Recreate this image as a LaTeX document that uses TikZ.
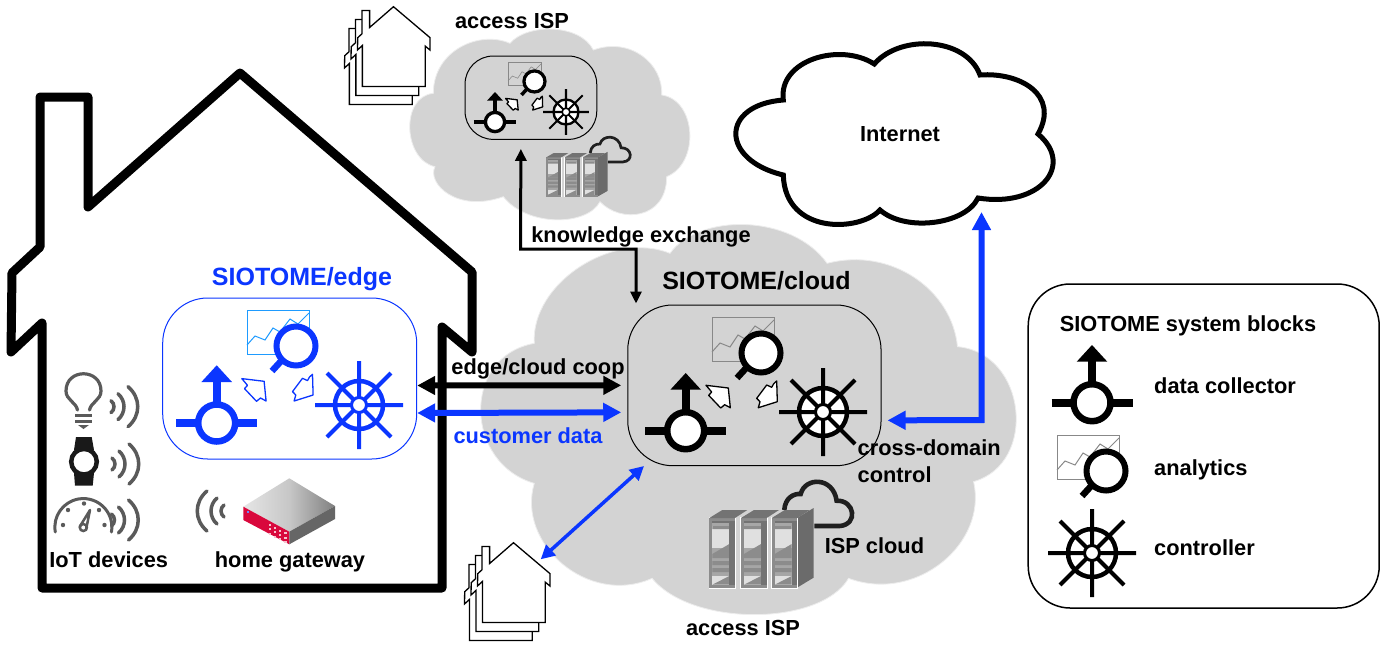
\documentclass[tikz,border=0pt]{standalone}
\usepackage{fontspec}
\setmainfont{Liberation Sans}
\usetikzlibrary{arrows.meta,calc}
\definecolor{sblue}{HTML}{0B36FF}
\definecolor{schart}{HTML}{1E9BFF}
\definecolor{cgray}{HTML}{D3D3D3}
\definecolor{igray}{HTML}{5A5A5A}
\definecolor{rred}{HTML}{D9083C}
\definecolor{cline}{HTML}{888888}
\tikzset{
  lbl/.style={font=\bfseries\fontsize{21.8}{26}\selectfont,inner sep=0pt,text height=16pt,text depth=0pt},
  lblbig/.style={lbl,font=\bfseries\fontsize{25}{30}\selectfont,text height=19pt,text depth=1pt},
  sysbox/.style={draw,rounded corners=#1,inner sep=0pt,line width=1pt},
  cloudfill/.style={fill=cgray,draw=white!93!black,line width=.8pt},
  wave/.style={draw=igray,line cap=round},
  blackthin/.style={line width=3pt,draw=black},
  thick6/.style={line width=6pt}
}
% ---- repeated icons ----
\newcommand{\collector}[4]{\begin{scope}[shift={(#1,#2)},scale=#3]
  \draw[#4,line width=#3*8pt] (-40.5,0) -- (-18,0) (18,0) -- (40.5,0) (0,-18) -- (0,-42);
  \fill[#4] (0,-57.7) -- (15.3,-41) -- (-15.3,-41) -- cycle;
  \draw[#4,fill=white,line width=#3*6.5pt] (0,0) circle (18.5);
\end{scope}}
\newcommand{\analytics}[5]{\begin{scope}[shift={(#1,#2)},scale=#3]
  \draw[#5,line width=1pt] (0,0) rectangle (62,44);
  \draw[#5,line width=#3*1pt] (0,35) -- (8,26) -- (18,30) -- (26,18) -- (33,22) -- (43,9) -- (51,14) -- (62,3);
  \draw[#4,line width=#3*6pt,fill=white] (49,36) circle (19.5);
  \draw[#4,line width=#3*6.5pt] (35.5,49.5) -- (25,61);
\end{scope}}
\newcommand{\controller}[4]{\begin{scope}[shift={(#1,#2)},scale=#3]
  \fill[white] (0,0) circle (24);
  \draw[#4,line width=#3*4pt] (-44,0) -- (44,0) (0,-44) -- (0,44) (-32,-32) -- (32,32) (-32,32) -- (32,-32);
  \draw[#4,line width=#3*4.5pt] (0,0) circle (24);
  \draw[#4,fill=white,line width=#3*3pt] (0,0) circle (7.5);
\end{scope}}
\newcommand{\blockarrows}[4]{\begin{scope}[shift={(#1,#2)},scale=#3]
  \draw[#4,fill=white,line width=1.3pt,line join=round] (20.3,-45.4) -- (42.6,-42.7) -- (44.6,-23) -- (39,-26) -- (35,-22.7) -- (23,-35.4) -- (26,-38.7) -- cycle;
  \draw[#4,fill=white,line width=1.3pt,line join=round] (91,-49.7) -- (91.6,-29) -- (72.6,-23) -- (74.3,-29) -- (71,-32.4) -- (81,-45.7) -- (86,-43.4) -- (88,-47) -- cycle;
\end{scope}}
\newcommand{\houseoutline}{(40,97) -- (88,97) -- (88,207) -- (240,73) -- (472,272) -- (472,352) -- (442,327) -- (442,588) -- (42,588) -- (42,323) -- (11,352) -- (12,273) -- (40,247) -- cycle}
\newcommand{\houses}[2]{\foreach \k in {2,1,0}{
  \begin{scope}[shift={({#1-6.5*\k},{#2+9*\k})}]
    \draw[black,fill=white,line width=1.3pt,xscale=.157,yscale=.155] \houseoutline;
  \end{scope}}}
\newcommand{\waves}[3]{\begin{scope}[shift={(#1,#2)},xscale=#3]
  \draw[wave,line width=3.5pt] (0,-6) .. controls (4,-3) and (4,3) .. (0,6);
  \draw[wave,line width=3.5pt] (7,-13) .. controls (15,-6) and (15,6) .. (7,13);
  \draw[wave,line width=3.5pt] (17,-20) .. controls (30,-9) and (30,9) .. (17,20);
\end{scope}}
\newcommand{\onetower}[1]{\begin{scope}[shift={(#1,8)}]
  \fill[white] (-.7,-.7) rectangle (26.5,70.5);
  \fill[black!45] (0,0) rectangle (25.7,69.7);
  \fill[black!35] (3,3) rectangle (20,66.7);
  \fill[black!55] (3,3) rectangle (20,5);
  \fill[black!12] (3,8) rectangle (20,30);
  \fill[black!45] (3,8) rectangle (20,11) (3,36) rectangle (20,40) (3,43) rectangle (20,47) (3,50) rectangle (20,54);
  \fill[black!12] (3,58) rectangle (20,66.7);
  \fill[black!45] (3,66.7) -- (20,58) -- (20,66.7) -- cycle;
  \fill[black!45] (3,36) -- (20,26) -- (20,36) -- cycle;
  \fill[black!55] (20,3) rectangle (25.7,66.7);
  \fill[black!55] (0,0) -- (25.7,0) -- (38,-8) -- (13,-8) -- cycle;
\end{scope}}
\newcommand{\servers}[4]{\begin{scope}[shift={(#1,#2)},xscale=#3,yscale=#4]
  \draw[black!88,line width=#3*4.6pt] (75,0) .. controls (75.7,-11.7) and (84,-16.7) .. (91.4,-16) .. controls (95.7,-33.3) and (124,-33.3) .. (127.3,-9.3) .. controls (145.7,-10) and (149,14.7) .. (130.3,16) -- (105,16);
  \fill[igray!90] (87.7,8) -- (104.3,-2) -- (104.3,67.7) -- (87.7,77.7) -- cycle;
  \onetower{0}\onetower{31.7}\onetower{62.4}
\end{scope}}
\begin{document}
\begin{tikzpicture}[x=1pt,y=-1pt,line join=miter]
\useasboundingbox (0,0) rectangle (1391,646);
\fill[white] (0,0) rectangle (1391,646);
% gray clouds
\begin{scope}[shift={(470,210)},xscale=1/2.8,yscale=1/3]
\path[cloudfill] (560,130) .. controls (640,10) and (900,10) .. (1000,160)
  .. controls (1180,110) and (1350,240) .. (1365,410)
  .. controls (1560,430) and (1590,760) .. (1410,815)
  .. controls (1450,1000) and (1250,1180) .. (1060,1105)
  .. controls (980,1250) and (620,1250) .. (510,1105)
  .. controls (330,1190) and (130,1000) .. (180,820)
  .. controls (-15,760) and (-25,440) .. (180,400)
  .. controls (170,220) and (400,60) .. (560,130) -- cycle;
\end{scope}
\begin{scope}[shift={(400,20)},scale=1/3]
\path[cloudfill] (330,70) .. controls (380,10) and (540,10) .. (580,90)
  .. controls (690,50) and (790,130) .. (785,225)
  .. controls (890,240) and (900,430) .. (800,470)
  .. controls (800,600) and (660,610) .. (600,545)
  .. controls (560,620) and (380,620) .. (310,530)
  .. controls (170,580) and (80,490) .. (105,440)
  .. controls (10,420) and (0,230) .. (100,220)
  .. controls (100,90) and (240,30) .. (330,70) -- cycle;
\end{scope}
% Internet cloud
\draw[line width=5pt,fill=white] (874.3,64) .. controls (900,34) and (966,37) .. (980,75)
  .. controls (1020,72) and (1060,95) .. (1038,134)
  .. controls (1075,165) and (1040,208) .. (978,198)
  .. controls (965,225) and (905,232) .. (880,210)
  .. controls (860,232) and (785,235) .. (783.3,175)
  .. controls (720,160) and (720,105) .. (783.3,100)
  .. controls (778,60) and (840,42) .. (874.3,64) -- cycle;
% big house
\draw[line width=9pt,line join=round] \houseoutline;
% boxes
\node[sysbox=45pt,draw=sblue,minimum width=254pt,minimum height=161pt] (edgebox) at (289.7,378.5) {};
\node[sysbox=45pt,minimum width=253.3pt,minimum height=160.7pt] (cloudbox) at (754.4,385.35) {};
\node[sysbox=28pt,minimum width=131.7pt,minimum height=83.3pt] (ispbox) at (530.9,97.7) {};
\node[sysbox=42pt,line width=1.5pt,minimum width=351pt,minimum height=324pt] (legendbox) at (1203.7,446) {};
% connector ends
\coordinate (kbend1) at (520.5,249);
\coordinate (kbend2) at (636,249);
\coordinate (hometop) at (540.7,559.3);
\coordinate (netbase) at (981.5,212);
\coordinate (netbend) at (981.5,420);
% connectors
\draw[blackthin,{Triangle[length=12pt,width=11pt]}-{Triangle[length=12pt,width=11pt]}] ([xshift=-10pt,yshift=-9pt]ispbox.south) -- (kbend1) -- (kbend2) -- ([xshift=-118.4pt,yshift=1pt]cloudbox.north);
\draw[thick6,{Triangle[length=18pt,width=18pt]}-{Triangle[length=18pt,width=18pt]}] ([yshift=-7pt]edgebox.east) -- ([xshift=-6pt]cloudbox.west);
\draw[thick6,sblue,{Triangle[length=18pt,width=18pt]}-{Triangle[length=18pt,width=18pt]}] ([yshift=-34.5pt]edgebox.east) -- ([xshift=-6pt,yshift=-27pt]cloudbox.west);
\draw[thick6,sblue,{Triangle[length=18pt,width=18pt]}-{Triangle[length=18pt,width=18pt]}] (netbase) -- (netbend) -- ([xshift=6pt,yshift=-35pt]cloudbox.east);
\draw[line width=3.5pt,sblue,{Triangle[length=14pt,width=14pt]}-{Triangle[length=14pt,width=14pt]}] (hometop) -- (644,466);
% icons: edge
\analytics{247}{310}{1}{sblue}{schart}
\collector{216.7}{423}{1}{sblue}
\controller{359}{405}{1}{sblue}
\blockarrows{221.5}{424}{1}{sblue}
% icons: cloud
\analytics{712}{317}{1}{black}{cline}
\collector{685.7}{430.7}{1}{black}
\controller{823}{412}{1}{black}
\blockarrows{685.7}{430.7}{1}{black}
% icons: top ISP
\analytics{508}{62}{.54}{black}{cline}
\collector{495}{122}{.52}{black}
\controller{566}{112}{.52}{black}
\blockarrows{495}{122}{.52}{black}
% legend icons
\collector{1092}{402.7}{1}{black}
\analytics{1057}{435}{1}{black}{cline}
\controller{1092}{553}{1}{black}
% servers
\servers{709.3}{510}{1}{1}
\servers{546}{153}{.59}{.56}
% mini houses
\houses{355.8}{-4.6}
\houses{475.8}{531.4}
% bulb
\draw[igray,line width=3.2pt,line cap=round] (77.5,410) .. controls (76,402) and (66,400) .. (66,391) .. controls (66,368) and (101,368) .. (101,391) .. controls (101,400) and (91,402) .. (89.5,410);
\draw[igray,line width=3pt] (75,415.5) -- (92,415.5) (75,421) -- (92,421);
\fill[igray] (78,425) -- (89,425) -- (83.5,429) -- cycle;
% watch
\fill[black!90] (76,437) -- (91.7,437) -- (94,450) -- (74,450) -- cycle (74,473) -- (94,473) -- (92.7,485.7) -- (75,485.7) -- cycle;
\draw[black!90,fill=white,line width=4.5pt] (84,461.7) circle (12.8);
% gauge
\draw[igray,line width=3pt,line cap=round] (55.3,532) arc (170:370:28.5);
\fill[igray] (63,525) circle (2.2) (68,510) circle (2.2) (84,503.5) circle (2.2) (99,510) circle (2.2) (104.5,525) circle (2.2);
\draw[igray,line width=2.5pt,line join=round] (79.5,527) -- (90,510) -- (86,530);
\draw[igray,line width=2.5pt] (83.3,527.5) circle (3.5);
% waves
\waves{111}{406.7}{1}
\waves{112}{464}{1}
\waves{111.5}{520}{1}
\waves{224}{511}{-1}
% router
\shade[left color=black!10,right color=black!50,middle color=black!22] (289.3,478.3) -- (335,506) -- (289.3,531.7) -- (243.3,506.7) -- cycle;
\fill[rred] (243.3,506.7) -- (289.3,531.7) -- (289.3,544.3) -- (243.3,520) -- cycle;
\fill[black!60] (289.3,531.7) -- (335,506) -- (335,519) -- (289.3,544.3) -- cycle;
\fill[sblue!60] (247,511) rectangle (249,513);
\foreach \i in {0,...,3}{\foreach \j in {0,...,2}{
  \fill[white!75!rred] ({270+\i*5.1},{525+\i*2.8+\j*4.4}) +(-1.2,-1) rectangle +(1.2,1);}}
% labels
\node[lbl] (t1) at (512,20) {access ISP};
\node[lbl] (t2) at (743,627) {access ISP};
\node[lblbig,text=sblue] (t3) at (302,276) {SIOTOME/edge};
\node[lblbig] (t4) at (756.5,280) {SIOTOME/cloud};
\node[lbl] (t5) at (641,234) {knowledge exchange};
\node[lbl] (t6) at (538,366) {edge/cloud coop};
\node[lbl,text=sblue] (t7) at (528,435) {customer data};
\node[lbl,anchor=west] (t8) at (857.5,447) {cross-domain};
\node[lbl,anchor=west] (t9) at (857.5,474) {control};
\node[lbl] (t10) at (874.4,545) {ISP cloud};
\node[lbl] (t11) at (900,133) {Internet};
\node[lbl] (t12) at (1188,323) {SIOTOME system blocks};
\node[lbl,anchor=west] (t13) at (1154,385) {data collector};
\node[lbl,anchor=west] (t14) at (1154,467) {analytics};
\node[lbl,anchor=west] (t15) at (1154,547) {controller};
\node[lbl] (t16) at (108.7,559) {IoT devices};
\node[lbl] (t17) at (290,559) {home gateway};
\end{tikzpicture}
\end{document}
